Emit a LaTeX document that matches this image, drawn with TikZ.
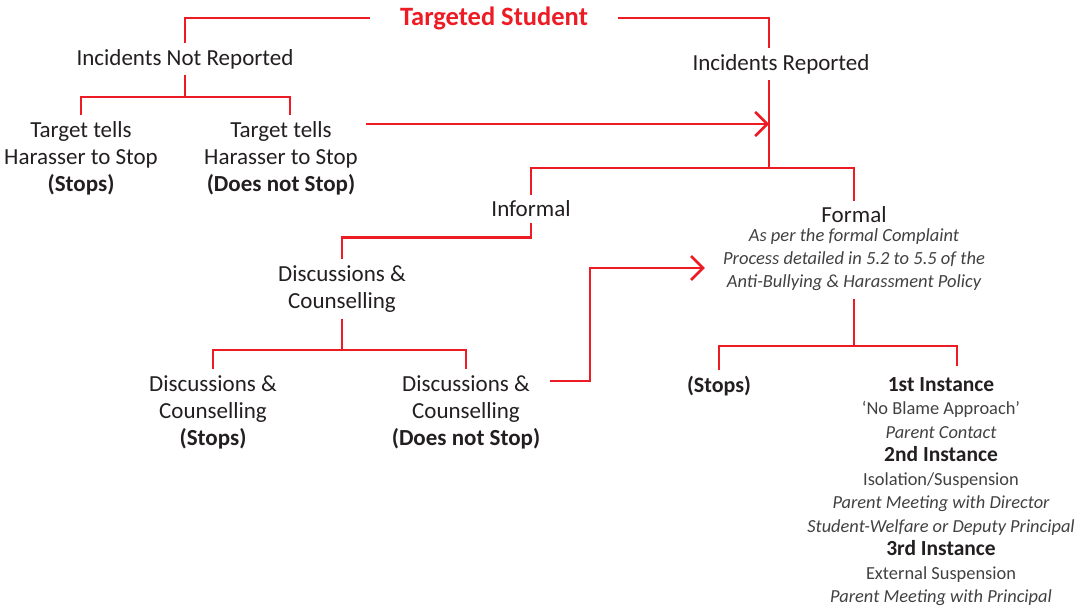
\documentclass[tikz,border=0pt]{standalone}
\usepackage{fontspec}
\setmainfont{Carlito}
\usetikzlibrary{arrows.meta}
\definecolor{flowred}{HTML}{ED1C24}
\definecolor{ink}{HTML}{231F20}
\definecolor{notegray}{HTML}{414042}
\begin{document}
\begin{tikzpicture}[x=1pt,y=-1pt,
  link/.style={draw=flowred,line width=2.6pt},
  arrow/.style={link,-{Straight Barb[length=12pt,width=24pt]}},
  txt/.style={font=\fontsize{23}{27}\selectfont,text=ink,align=center,inner sep=6pt},
  note/.style={font=\fontsize{18.5}{23}\selectfont\itshape,text=notegray,align=center,inner ysep=8pt,inner xsep=18pt},
  instbold/.style={font=\fontsize{21.5}{24}\selectfont\bfseries,text=ink,inner sep=0pt,text height=13pt,text depth=4pt,yshift=-2.5pt},
  instplain/.style={instbold,font=\fontsize{18.4}{23}\selectfont,text=notegray,yshift=0pt},
  instital/.style={instplain,font=\fontsize{18.4}{23}\selectfont\itshape}]
\useasboundingbox (0,0) rectangle (1080,606);

\node[txt,font=\fontsize{26.5}{30}\selectfont\bfseries,text=flowred,inner xsep=30pt] (title) at (494,18) {Targeted Student};
\node[txt] (notrep) at (185,59) {Incidents Not Reported};
\node[txt] (rep) at (781,64) {Incidents Reported};
\node[txt] (tell1) at (81,158) {Target tells\\Harasser to Stop\\\textbf{(Stops)}};
\node[txt,inner xsep=8pt] (tell2) at (281,158) {Target tells\\Harasser to Stop\\\textbf{(Does not Stop)}};
\node[txt] (informal) at (531,209) {Informal};
\node[txt] (formal) at (854,215) {Formal};
\node[note] (formalnote) at (854,260) {As per the formal Complaint\\Process detailed in 5.2 to 5.5 of the\\Anti-Bullying \& Harassment Policy};
\node[txt] (disc) at (342,289) {Discussions \&\\Counselling};
\node[txt] (dstop) at (213,412) {Discussions \&\\Counselling\\\textbf{(Stops)}};
\node[txt,inner xsep=10pt] (ddont) at (466,412) {Discussions \&\\Counselling\\\textbf{(Does not Stop)}};
\node[txt,font=\fontsize{22}{27}\selectfont\bfseries] (stops) at (719,386) {(Stops)};
\foreach \words/\kind [count=\n] in {
  1st Instance/instbold,
  `No Blame Approach'/instplain,
  Parent Contact/instital,
  2nd Instance/instbold,
  {Isolation/Suspension}/instplain,
  Parent Meeting with Director/instital,
  Student-Welfare or Deputy Principal/instital,
  3rd Instance/instbold,
  External Suspension/instplain,
  Parent Meeting with Principal/instital}
  \node[\kind] (I\n) at (941,360.45+23.55*\n) {\words};

% joints on the trunk
\coordinate (hit) at (769,124);
\coordinate (split) at (769,168);
\coordinate (bend) at (590,268);
\coordinate (k3) at (851,346);

\draw[link] (title.west) -| (notrep.north);
\draw[link] (title.east) -| ([xshift=-12pt]rep.north);
\draw[link] (tell1.north) -- ++(0,-18) coordinate (k1) -| ([xshift=9pt]tell2.north);
\draw[link] (notrep.south) -- (notrep.south |- k1);
\draw[arrow] (tell2.east |- hit) -- (hit);
\draw[link] ([xshift=-12pt]rep.south) -- (split);
\draw[link] (informal.north) |- (split) -| (formal.north);
\draw[link] (informal.south) -- ++(0,14) -| (disc.north);
\draw[link] (dstop.north) -- ++(0,-19) coordinate (k2) -| (ddont.north);
\draw[link] (disc.south) -- (disc.south |- k2);
\draw[arrow] ([yshift=31pt]ddont.east) -| (bend) -- (bend -| formalnote.west);
\draw[link] (formalnote.south) -- (formalnote.south |- k3);
\draw[link,shorten >=12pt] (stops.north) |- (k3) -| ([xshift=16pt]I1.north);
\end{tikzpicture}
\end{document}
